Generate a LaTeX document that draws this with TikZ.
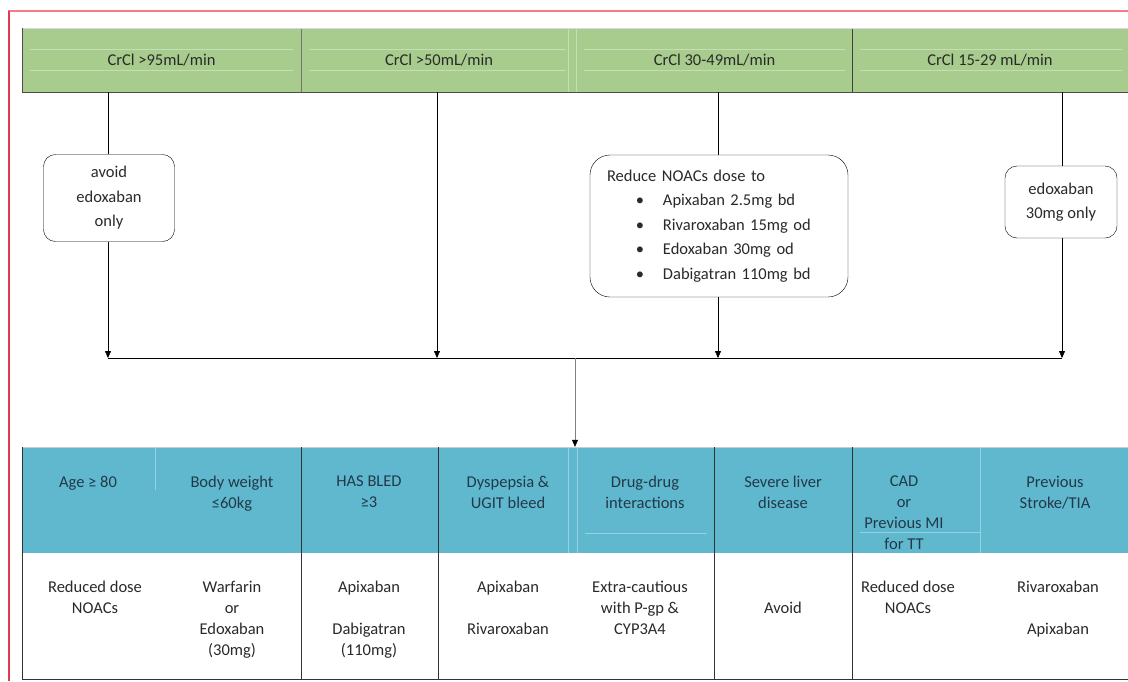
\documentclass[tikz,border=0pt]{standalone}
\usepackage{fontspec}
\setmainfont{Carlito}
\usetikzlibrary{arrows.meta, positioning}

\definecolor{crclgreen}{HTML}{A8CC8E}
\definecolor{crclline}{HTML}{C6DEB3}
\definecolor{riskblue}{HTML}{60B8CE}
\definecolor{riskline}{HTML}{92D2E2}
\definecolor{framepink}{HTML}{F27B8B}
\definecolor{framered}{HTML}{E23A55}
\definecolor{textgrey}{HTML}{2A2A2A}
\definecolor{textnavy}{HTML}{22394A}

\newcommand\doseitem[1]{\hspace*{33pt}\makebox[0pt]{\textbullet}\hspace*{23pt}#1}

\begin{document}
\begin{tikzpicture}[
    x=1pt, y=-1pt,
    font=\fontsize{16.5}{21}\selectfont,
    crcl/.style={
        rectangle, fill=crclgreen,
        minimum width=#1, minimum height=64pt,
        inner sep=0pt, text=textgrey
    },
    note/.style={
        rectangle, rounded corners=12pt, draw=black, thin,
        fill=white, align=center, inner sep=0pt,
        font=\fontsize{16.5}{24.5}\selectfont, text=textgrey
    },
    band/.style={
        rectangle, minimum width=1106pt, inner sep=0pt
    },
    risk/.style={anchor=north, align=center, inner sep=0pt, text=textnavy},
    advice/.style={anchor=north, align=center, inner sep=0pt, text=textgrey},
    line/.style={draw=black, thin},
    flow/.style={draw=black, thin, -{Triangle[length=7pt, width=6pt, black]}}
]
\useasboundingbox (0,0) rectangle (1128,681);

% -------------------------
% page frame
% -------------------------
\draw[framepink, line width=1.2pt] (8,11) -- (1128,11);
\draw[framered, line width=1.2pt] (9,11) -- (9,681);

% -------------------------
% 1. CrCl header row
% -------------------------
\node[crcl=279pt] (crcl1) at (161.5,60) {CrCl >95mL/min};
\node[crcl=276pt] (crcl2) at (439,60) {CrCl >50mL/min};
\node[crcl=275pt] (crcl3) at (714.5,60) {CrCl 30-49mL/min};
\node[crcl=276pt] (crcl4) at (990,60) {CrCl 15-29 mL/min};
\foreach \xa/\xb in {30/293, 309/566, 584/845, 860/1122} {
    \draw[crclline] (\xa,49) -- (\xb,49) (\xa,70) -- (\xb,70);
}
\draw[crclline] (568,28) -- (568,92) (576,28) -- (576,92);
\draw[black!55] (301,28) -- (301,92);
\draw[black!75] (852,28) -- (852,92);
\draw[black!15] (22,28) -- (1128,28);
\draw[black!70] (22,28) -- (22,92) -- (1128,92);

% -------------------------
% 2. dose notes
% -------------------------
\node[note, minimum width=131pt, minimum height=87pt] (note1) at (109,198) {avoid\\edoxaban\\only};
\node[note, rounded corners=20pt, minimum width=258pt, minimum height=142pt,
      align=left, text width=224pt] (note3) at (719,226) {Reduce NOACs dose to\\
    \doseitem{Apixaban 2.5mg bd}\\
    \doseitem{Rivaroxaban 15mg od}\\
    \doseitem{Edoxaban 30mg od}\\
    \doseitem{Dabigatran 110mg bd}};
\node[note, minimum width=112pt, minimum height=72pt] (note4) at (1061,202) {edoxaban\\30mg only};

% -------------------------
% 3. collecting line
% -------------------------
\coordinate (bus1) at (108,358);
\coordinate (bus2) at (437,358);
\coordinate (bus3) at (718,358);
\coordinate (bus4) at (1062,358);
\coordinate (busmid) at (575,358);

\draw[line] (crcl1.south -| bus1) -- (note1.north -| bus1);
\draw[flow] (note1.south -| bus1) -- (bus1);
\draw[flow] (crcl2.south -| bus2) -- (bus2);
\draw[line] (crcl3.south -| bus3) -- (note3.north -| bus3);
\draw[flow] (note3.south -| bus3) -- (bus3);
\draw[line] (crcl4.south -| bus4) -- (note4.north -| bus4);
\draw[flow] (note4.south -| bus4) -- (bus4);
\draw[line] (bus1) -- (bus4);

% -------------------------
% 4. risk table
% -------------------------
\node[band, fill=riskblue, minimum height=106pt] (riskband) at (575,500) {};
\node[band, fill=white, minimum height=126pt] (adviceband) at (575,616) {};
\draw[flow, draw=gray] (busmid) -- (riskband.north -| busmid);

\draw[riskline] (155,447) -- (155,490);
\draw[riskline] (568,447) -- (568,553) (577,447) -- (577,553);
\draw[riskline] (980,447) -- (980,553);
\draw[riskline] (585,533) -- (707,533);
\draw[riskline] (860,532) -- (980,532);
\draw[black!20] (22,447) -- (1128,447);
\foreach \xd in {301, 438, 714, 852} {
    \draw[black!80] (\xd,447) -- (\xd,679);
}
\draw[black!80] (22,447) -- (22,679) -- (1128,679);

% risk factors
\node[risk] (risk1) at (88,476) {Age ≥ 80};
\node[risk] (risk2) at (232,476) {Body weight\\≤60kg};
\node[risk] (risk3) at (369,476) {HAS BLED\\≥3};
\node[risk] (risk4) at (508,476) {Dyspepsia \&\\UGIT bleed};
\node[risk] (risk5) at (645,476) {Drug-drug\\interactions};
\node[risk] (risk6) at (783,476) {Severe liver\\disease};
\node[risk] (risk7) at (904,476) {CAD\\or\\Previous MI\\for TT};
\node[risk] (risk8) at (1055,476) {Previous\\Stroke/TIA};

% advice
\node[advice] (advice1) at (95,581) {Reduced dose\\NOACs};
\node[advice] (advice2) at (232,581) {Warfarin\\or\\Edoxaban\\(30mg)};
\node[advice] (advice3) at (369,581) {Apixaban\\[21pt]Dabigatran\\(110mg)};
\node[advice] (advice4) at (508,581) {Apixaban\\[21pt]Rivaroxaban};
\node[advice] (advice5) at (640,581) {Extra-cautious\\with P-gp \&\\CYP3A4};
\node[advice] (advice6) at (783,602) {Avoid};
\node[advice] (advice7) at (908,581) {Reduced dose\\NOACs};
\node[advice] (advice8) at (1058,581) {Rivaroxaban\\[21pt]Apixaban};

\end{tikzpicture}
\end{document}
